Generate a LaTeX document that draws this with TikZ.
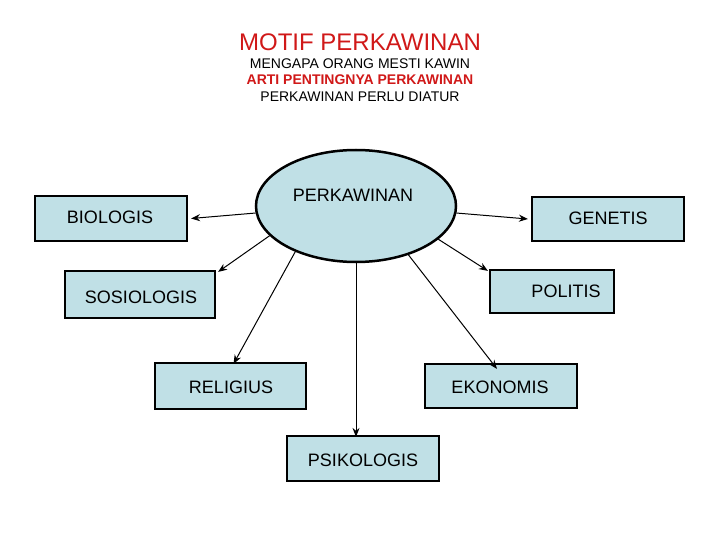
\documentclass[tikz,border=0pt]{standalone}
\usepackage{fontspec}
\setmainfont{Liberation Sans}
\usetikzlibrary{shapes.geometric,arrows.meta}
\definecolor{boxblue}{HTML}{C0E0E6}
\definecolor{titlered}{HTML}{D01818}
\begin{document}
\begin{tikzpicture}[x=1pt,y=-1pt,
  box/.style={draw=black,line width=2.2pt,fill=boxblue,inner sep=0pt},
  lbl/.style={font=\fontsize{18}{20}\selectfont},
  conn/.style={-{Stealth[length=9pt,width=7pt]},line width=1pt}]
\useasboundingbox (0,0) rectangle (720,540);
\node[font=\fontsize{24}{26}\selectfont,text=titlered] (t) at (360,42) {MOTIF PERKAWINAN};
\node[font=\fontsize{14}{16}\selectfont] (s1) at (360,64) {MENGAPA ORANG MESTI KAWIN};
\node[font=\bfseries\fontsize{14}{16}\selectfont,text=titlered] (s2) at (360,80) {ARTI PENTINGNYA PERKAWINAN};
\node[font=\fontsize{14}{16}\selectfont] (s3) at (360,97) {PERKAWINAN PERLU DIATUR};
\node[ellipse,draw=black,line width=2.5pt,fill=boxblue,minimum width=200pt,minimum height=112pt] (e) at (356,206) {};
\node[lbl] (el) at (353,195) {PERKAWINAN};
\node[box,minimum width=152pt,minimum height=45pt] (bio) at (111,218.5) {};
\node[lbl] at (110,217) {BIOLOGIS};
\node[box,minimum width=152pt,minimum height=44pt] (gen) at (608,219) {};
\node[lbl] at (608,218) {GENETIS};
\node[box,minimum width=150pt,minimum height=47pt] (sos) at (140,294.5) {};
\node[lbl] at (141,297) {SOSIOLOGIS};
\node[box,minimum width=124pt,minimum height=43pt] (pol) at (552,291.5) {};
\node[lbl] at (566,291) {POLITIS};
\node[box,minimum width=151pt,minimum height=46pt] (rel) at (230.5,386) {};
\node[lbl] at (231,387) {RELIGIUS};
\node[box,minimum width=152pt,minimum height=44pt] (eko) at (501,386) {};
\node[lbl] at (500,387) {EKONOMIS};
\node[box,minimum width=152pt,minimum height=45pt] (psi) at (363,458.5) {};
\node[lbl] at (363,460) {PSIKOLOGIS};
\draw[conn] (e.184) -- ([xshift=3pt]bio.east);
\draw[conn] (e.356) -- ([xshift=-3pt]gen.west);
\draw[conn] (e.199) -- ([xshift=2pt,yshift=-2pt]sos.north east);
\draw[conn] (e.338) -- ([xshift=-1pt,yshift=-2pt]pol.north west);
\draw[conn] (e.217) -- ([xshift=3pt,yshift=-2pt]rel.north);
\draw[conn] (e.317) -- ([xshift=-4pt,yshift=-6pt]eko.north);
\draw[conn] (e.270) -- ([xshift=-7pt,yshift=-2pt]psi.north);
\end{tikzpicture}
\end{document}
